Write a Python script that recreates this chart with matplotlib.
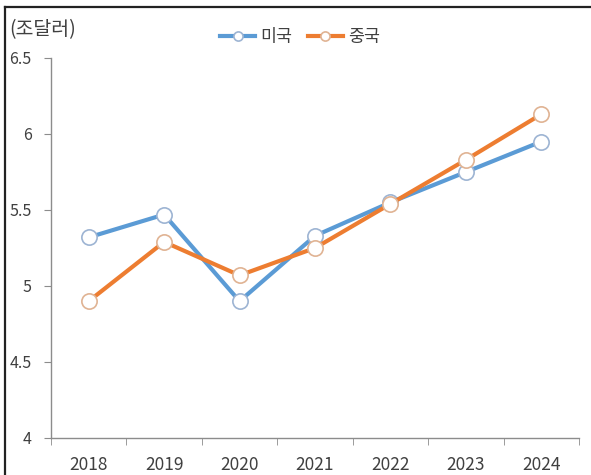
import matplotlib
matplotlib.use("Agg")
import matplotlib.pyplot as plt
from matplotlib.lines import Line2D

plt.rcParams['font.family'] = ['Noto Sans CJK KR', 'DejaVu Sans']

# data (조달러)
years = ['2018', '2019', '2020', '2021', '2022', '2023', '2024']
usa = [5.32, 5.47, 4.90, 5.33, 5.55, 5.75, 5.95]
china = [4.90, 5.29, 5.07, 5.25, 5.54, 5.83, 6.13]

blue = '#5B9BD5'
orange = '#ED7D31'
axis_grey = '#8C8C8C'
text_col = '#404040'

fig = plt.figure(figsize=(5.91, 4.75), dpi=100)
ax = fig.add_axes([51 / 591, 1 - 438 / 475, (579 - 51) / 591, (438 - 58) / 475])

x = range(len(years))
ax.plot(x, usa, color=blue, lw=3, marker='o', ms=11,
        mfc='white', mec='#9DB4D3', mew=1.2, label='미국', zorder=3)
ax.plot(x, china, color=orange, lw=3, marker='o', ms=11,
        mfc='white', mec='#E0B393', mew=1.2, label='중국', zorder=3)

ax.set_xlim(-0.5, len(years) - 0.5)
ax.set_ylim(4, 6.5)
ax.set_yticks([4, 4.5, 5, 5.5, 6, 6.5])
ax.set_yticklabels(['4', '4.5', '5', '5.5', '6', '6.5'])
ax.set_xticks(list(x))
ax.set_xticklabels(years)
# category boundary ticks on the x axis
ax.set_xticks([i - 0.5 for i in range(len(years) + 1)], minor=True)
ax.tick_params(axis='x', which='major', length=0, pad=13, labelsize=12.5, colors=text_col)
ax.tick_params(axis='x', which='minor', length=5, color=axis_grey, direction='out')
ax.tick_params(axis='y', length=5, color=axis_grey, labelsize=11.5, labelcolor=text_col, pad=9)

for side in ['top', 'right']:
    ax.spines[side].set_visible(False)
for side in ['left', 'bottom']:
    ax.spines[side].set_color(axis_grey)
    ax.spines[side].set_linewidth(1)

fig.text(9 / 591, 1 - 30 / 475, '(조달러)', fontsize=14, color=text_col, va='center')

ax.legend(loc='center', bbox_to_anchor=(300 / 591, 1 - 37 / 475),
          bbox_transform=fig.transFigure, ncol=2, frameon=False,
          fontsize=12.5, handlelength=2.0, columnspacing=0.9, handletextpad=0.3,
          markerscale=0.6, labelcolor=text_col)

# outer frame (left and top edges visible in the source)
fy = 1 - 7 / 475
fx = 5 / 591
fig.add_artist(Line2D([fx, fx], [0, fy], color='#222222', lw=1.6, transform=fig.transFigure))
fig.add_artist(Line2D([fx, 1], [fy, fy], color='#222222', lw=1.6, transform=fig.transFigure))

fig.savefig('out.png', dpi=100)
